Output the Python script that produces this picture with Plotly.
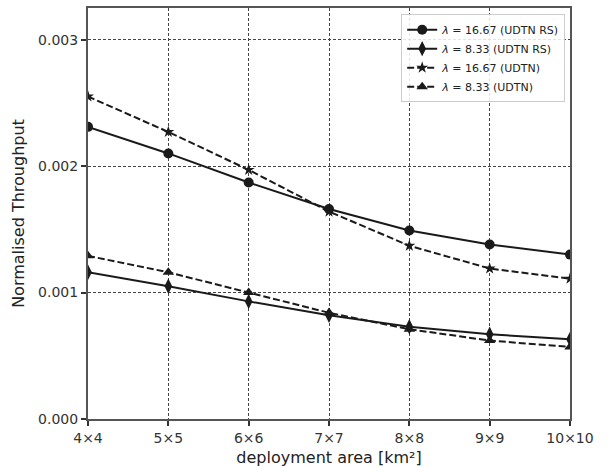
import plotly.graph_objects as go

categories = ["4×4", "5×5", "6×6", "7×7", "8×8", "9×9", "10×10"]
rs_16 = [0.00231, 0.00210, 0.00187, 0.00166, 0.00149, 0.00138, 0.00130]
rs_8 = [0.00116, 0.00105, 0.00093, 0.00082, 0.00073, 0.00067, 0.00063]
udtn_16 = [0.00255, 0.00227, 0.00197, 0.00164, 0.00137, 0.00119, 0.00111]
udtn_8 = [0.00129, 0.00116, 0.00100, 0.00084, 0.00071, 0.00062, 0.00057]
y_ticks = [0.0, 0.001, 0.002, 0.003]
y_tick_text = ["0.000", "0.001", "0.002", "0.003"]

series = [
    ("<i>λ</i> = 16.67 (UDTN RS)", rs_16, "circle", "solid", 10),
    ("<i>λ</i> = 8.33 (UDTN RS)", rs_8, "diamond-tall", "solid", 11),
    ("<i>λ</i> = 16.67 (UDTN)", udtn_16, "star", "7px,3px", 9),
    ("<i>λ</i> = 8.33 (UDTN)", udtn_8, "triangle-up", "7px,3px", 10),
]

fig = go.Figure()
for name, vals, sym, dash, size in series:
    fig.add_trace(go.Scatter(
        x=categories, y=vals, name=name, mode="lines+markers",
        line=dict(color="#1a1a1a", width=2, dash=dash),
        marker=dict(symbol=sym, size=size, color="#1a1a1a"),
    ))

axis_common = dict(
    showline=True, linecolor="#555555", linewidth=2, mirror=True,
    ticks="outside", ticklen=5, tickwidth=2, tickcolor="#333333",
    showgrid=True, gridcolor="#444444", gridwidth=1, griddash="3px,2px",
    zeroline=False, automargin=False,
    tickfont=dict(family="DejaVu Sans", size=14, color="#333333"),
)

fig.update_xaxes(
    type="category", range=[0, 6],
    title=dict(text="deployment area [km²]", font=dict(family="DejaVu Sans", size=16, color="#222222"), standoff=10),
    **axis_common,
)
fig.update_yaxes(
    range=[0, 0.00325], tickvals=y_ticks, ticktext=y_tick_text,
    title=dict(text="Normalised Throughput", font=dict(family="DejaVu Sans", size=16, color="#222222"), standoff=10),
    **axis_common,
)

fig.update_layout(
    width=608, height=467,
    margin=dict(l=88, r=38, t=8, b=48),
    paper_bgcolor="white", plot_bgcolor="white",
    showlegend=True,
    legend=dict(
        x=0.99, y=0.985, xanchor="right", yanchor="top",
        bgcolor="rgba(255,255,255,0.85)", bordercolor="#cccccc", borderwidth=1,
        font=dict(family="DejaVu Sans", size=11, color="#222222"),
        tracegroupgap=0, itemwidth=30,
    ),
)

fig.write_html("out.html")
